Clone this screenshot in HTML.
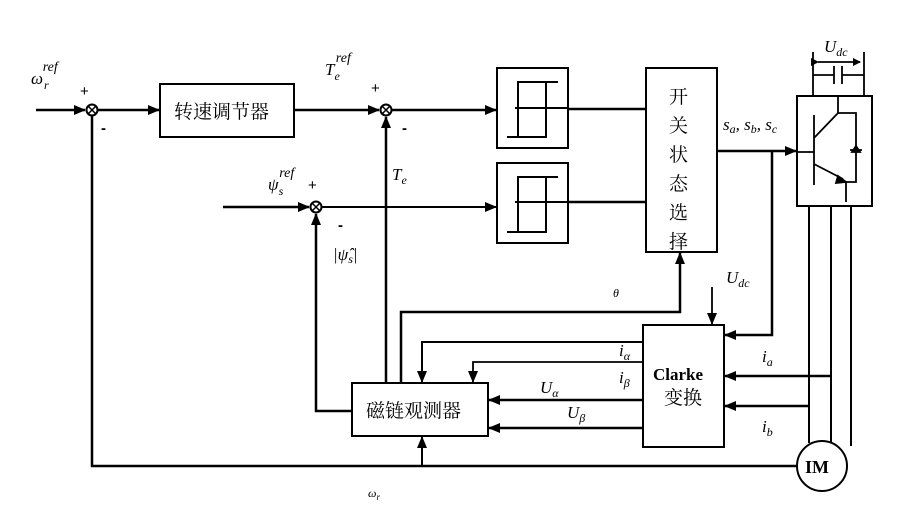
<!DOCTYPE html>
<html><head><meta charset="utf-8"><style>
html,body{margin:0;padding:0;background:#fff;}
svg{display:block;}
.m{font-family:"Liberation Serif",serif;font-style:italic;font-size:17px;}
.s{font-family:"Liberation Serif",serif;font-style:italic;font-size:12px;}
.r{font-family:"Liberation Serif",serif;font-style:italic;font-size:14px;}
.c{font-family:"Liberation Serif","Noto Serif CJK SC",serif;font-size:19px;}
.p{font-family:"Liberation Sans",sans-serif;font-size:15px;}
</style></head><body>
<svg width="910" height="531" viewBox="0 0 910 531" xmlns="http://www.w3.org/2000/svg">
<defs><marker id="a" markerWidth="8" markerHeight="8" refX="7" refY="4" orient="auto" markerUnits="userSpaceOnUse"><path d="M0,0 L8,4 L0,8 z" fill="#000"/></marker>
<marker id="b" markerWidth="12" markerHeight="10" refX="11" refY="5" orient="auto" markerUnits="userSpaceOnUse"><path d="M0,0 L12,5 L0,10 z" fill="#000"/></marker></defs>
<g stroke="#000" fill="none" stroke-width="2.5">
<line x1="36" y1="110" x2="85" y2="110" marker-end="url(#b)"/>
<line x1="98" y1="110" x2="159" y2="110" marker-end="url(#b)"/>
<rect x="160" y="84" width="134" height="53" stroke-width="2"/>
<line x1="294" y1="110" x2="379" y2="110" marker-end="url(#b)"/>
<line x1="392" y1="110" x2="496" y2="110" marker-end="url(#b)"/>
<line x1="223" y1="207" x2="309" y2="207" marker-end="url(#b)"/>
<line x1="322" y1="207" x2="496" y2="207" stroke-width="2" marker-end="url(#b)"/>
<rect x="497" y="68" width="71" height="80" stroke-width="2"/>
<rect x="497" y="163" width="71" height="80" stroke-width="2"/>
<g stroke-width="2"><path d="M507,137 H546 V82 H558 M518,137 V82 H546 M515,108 H567"/>
<path d="M507,232 H546 V177 H558 M518,232 V177 H546 M515,202 H567"/></g>
<line x1="568" y1="109" x2="646" y2="109"/>
<line x1="568" y1="202" x2="646" y2="202"/>
<rect x="646" y="68" width="71" height="184" stroke-width="2"/>
<line x1="717" y1="151" x2="796" y2="151" marker-end="url(#b)"/>
<path d="M772,150 V335 H725" marker-end="url(#b)"/>
<rect x="797" y="96" width="75" height="110" stroke-width="2"/>
<g stroke-width="1.8"><path d="M813,96 V52 M864,96 V52 M813,75 H834 M842,75 H864 M834,66 V84 M842,66 V84"/>
<line x1="818" y1="62" x2="860" y2="62" marker-end="url(#a)" marker-start="url(#a)"/>
<path d="M814,115 V185 M797,152 H814 M814,138 L838,113 M838,96 V113 H856 V182 H846 M846,182 V202 M814,164 L843,179 M850,150 H862"/>
<path d="M852,152 L860,152 L856,146 z" fill="#000"/><path d="M838,176 L846,182 L836,183 z" fill="#000"/></g>
<g stroke-width="2"><line x1="809" y1="206" x2="809" y2="443"/><line x1="831" y1="206" x2="831" y2="442"/><line x1="851" y1="206" x2="851" y2="446"/></g>
<circle cx="822" cy="466" r="25" stroke-width="2"/>
<rect x="643" y="325" width="81" height="122" stroke-width="2"/>
<line x1="712" y1="287" x2="712" y2="324" stroke-width="1.8" marker-end="url(#b)"/>
<line x1="831" y1="376" x2="725" y2="376" marker-end="url(#b)"/>
<line x1="809" y1="406" x2="725" y2="406" marker-end="url(#b)"/>
<path d="M643,342 H422 V382" stroke-width="2" marker-end="url(#b)"/>
<path d="M643,362 H473 V382" stroke-width="1.8" marker-end="url(#b)"/>
<line x1="643" y1="400" x2="489" y2="400" marker-end="url(#b)"/>
<line x1="643" y1="428" x2="489" y2="428" marker-end="url(#b)"/>
<rect x="352" y="383" width="136" height="53" stroke-width="2"/>
<path d="M401,383 V312 H680 V253" marker-end="url(#b)"/>
<line x1="386" y1="383" x2="386" y2="117" marker-end="url(#b)"/>
<path d="M352,411 H316 V214" marker-end="url(#b)"/>
<path d="M92,116 V466 H797"/>
<line x1="422" y1="466" x2="422" y2="437" stroke-width="2" marker-end="url(#b)"/>
</g>
<g stroke="#000" stroke-width="2" fill="#fff">
<circle cx="92" cy="110" r="5.5"/><circle cx="386" cy="110" r="5.5"/><circle cx="316" cy="207" r="5.5"/>
<path d="M88,106 L96,114 M96,106 L88,114 M382,106 L390,114 M390,106 L382,114 M312,203 L320,211 M320,203 L312,211" stroke-width="1.5"/>
</g>
<g fill="#000">
<text x="31" y="84" class="m">ω<tspan class="s" dx="1" dy="5">r</tspan><tspan class="r" dx="-6" dy="-18">ref</tspan></text>
<text x="80" y="96" class="p">+</text><text x="101" y="133" class="p" font-weight="bold">-</text>
<text x="174" y="118" class="c">转速调节器</text>
<text x="325" y="75" class="m">T<tspan class="s" dy="5">e</tspan><tspan class="r" dx="-4" dy="-18">ref</tspan></text>
<text x="371" y="93" class="p">+</text><text x="402" y="133" class="p" font-weight="bold">-</text>
<text x="268" y="190" class="m">ψ<tspan class="s" dy="5">s</tspan><tspan class="r" dx="-4" dy="-18">ref</tspan></text>
<text x="308" y="190" class="p">+</text><text x="338" y="230" class="p" font-weight="bold">-</text>
<text x="392" y="180" class="m">T<tspan class="s" dy="4">e</tspan></text>
<text x="333" y="260" class="m" font-size="15">|ψ̂<tspan class="s" dy="3">s</tspan><tspan dy="-3">|</tspan></text>
<g class="c" font-size="24"><text x="669" y="103">开</text><text x="669" y="132">关</text><text x="669" y="161">状</text><text x="669" y="190">态</text><text x="669" y="219">选</text><text x="669" y="248">择</text></g>
<text x="723" y="130" class="m" font-size="15">s<tspan class="s" dy="3">a</tspan><tspan dy="-3">, s</tspan><tspan class="s" dy="3">b</tspan><tspan dy="-3">, s</tspan><tspan class="s" dy="3">c</tspan></text>
<text x="824" y="52" class="m" font-size="15">U<tspan class="s" dy="4">dc</tspan></text>
<text x="726" y="283" class="m" font-size="15">U<tspan class="s" dy="4">dc</tspan></text>
<text x="613" y="297" class="s">θ</text>
<text x="619" y="356" class="m" font-size="15">i<tspan class="s" dy="4">α</tspan></text>
<text x="619" y="383" class="m" font-size="15">i<tspan class="s" dy="4">β</tspan></text>
<text x="540" y="393" class="m" font-size="15">U<tspan class="s" dy="4">α</tspan></text>
<text x="567" y="418" class="m" font-size="15">U<tspan class="s" dy="4">β</tspan></text>
<text x="762" y="362" class="m" font-size="15">i<tspan class="s" dy="4">a</tspan></text>
<text x="762" y="432" class="m" font-size="15">i<tspan class="s" dy="4">b</tspan></text>
<text x="653" y="380" font-family="Liberation Serif,serif" font-weight="bold" font-size="17">Clarke</text>
<text x="664" y="404" class="c" font-size="17">变换</text>
<text x="366" y="417" class="c" font-size="18">磁链观测器</text>
<text x="805" y="473" font-family="Liberation Serif,serif" font-weight="bold" font-size="18">IM</text>
<text x="368" y="497" class="s">ω<tspan font-size="9" dy="3">r</tspan></text>
</g>
</svg>
</body></html>
